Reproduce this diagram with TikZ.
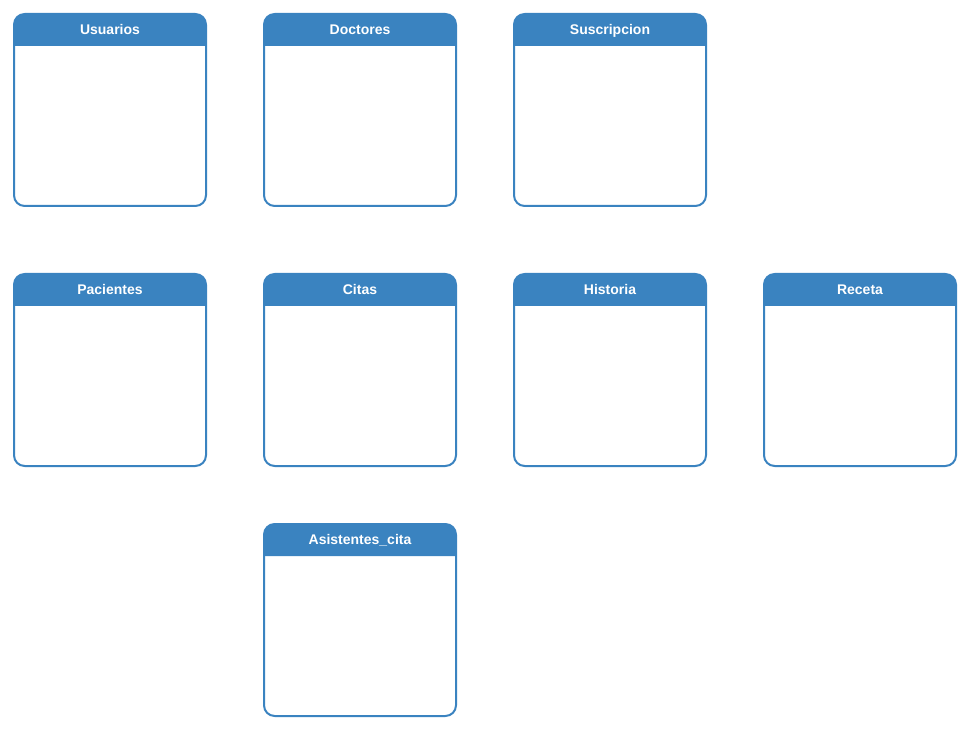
\documentclass[tikz,border=0pt]{standalone}
\usepackage{fontspec}
\setmainfont{Liberation Sans}
\definecolor{azul}{HTML}{3A83C0}
\tikzset{every picture/.style={line width=0.75pt}}
\tikzset{titulo/.style={text=white, font=\bfseries\fontsize{10.5}{13}\selectfont, inner sep=0.75pt, anchor=base}}
% tabla vacia: nombre, x, y, texto
\newcommand{\tabla}[4]{%
	\fill[azul] (#2,#3+32) [rounded corners=8] -- (#2,#3) -- (#2+192,#3) [sharp corners] -- (#2+192,#3+32) -- cycle;
	\draw[azul, line width=1.5pt, rounded corners=8] (#2,#3) rectangle (#2+192,#3+192);
	\node[titulo] (#1) at (#2+96,#3+20.5) {#4};
}

\begin{document}
\begin{tikzpicture}[x=0.75pt,y=0.75pt,yscale=-1,xscale=1]
	\useasboundingbox (0,0) rectangle (970,730);
	
	%Shape: Usuarios
	\tabla{usuarios}{14}{14}{Usuarios}
	%Shape: Doctores
	\tabla{doctores}{264}{14}{Doctores}
	%Shape: Suscripcion
	\tabla{suscripcion}{514}{14}{Suscripcion}
	%Shape: Pacientes
	\tabla{pacientes}{14}{274}{Pacientes}
	%Shape: Citas
	\tabla{citas}{264}{274}{Citas}
	%Shape: Historia
	\tabla{historia}{514}{274}{Historia}
	%Shape: Receta
	\tabla{receta}{764}{274}{Receta}
	%Shape: Asistentes_cita
	\tabla{asistentes}{264}{524}{Asistentes\_cita}
\end{tikzpicture}
\end{document}
